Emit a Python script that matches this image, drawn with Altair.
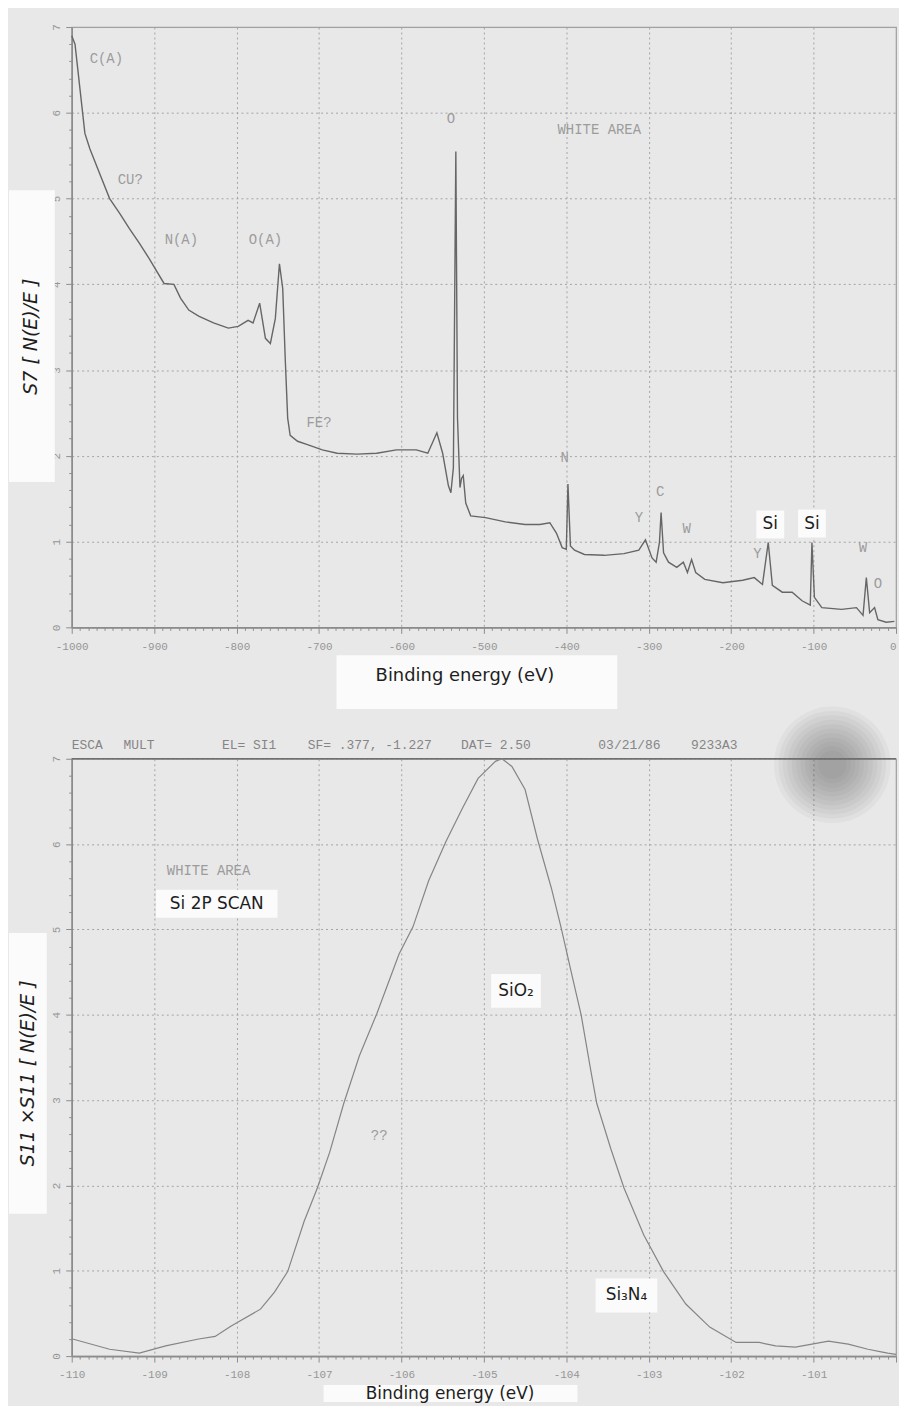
import altair as alt
import pandas as pd

# ---------------- data ----------------
# Survey spectrum (top panel): binding energy (eV) and S7[N(E)/E]
survey_be = [-1000, -996, -990, -984, -978, -966, -954, -942, -930, -918, -906, -888, -876, -868,
             -858, -846, -828, -810, -798, -786, -780, -772, -765, -759, -753, -748, -744, -741,
             -738, -735, -726, -714, -696, -678, -654, -630, -606, -582, -568, -557, -550, -543,
             -540, -537, -534, -532, -529, -527, -525, -522, -516, -498, -474, -450, -432, -420,
             -412, -405, -400, -398, -395, -390, -378, -354, -330, -312, -304, -296, -291, -287,
             -285, -282, -276, -266, -258, -253, -248, -243, -232, -210, -186, -172, -162, -155,
             -150, -138, -126, -114, -104, -102, -99, -90, -66, -48, -40, -36, -32, -26, -22, -12, -2]
survey_int = [6.90, 6.80, 6.28, 5.76, 5.58, 5.29, 5.00, 4.83, 4.65, 4.48, 4.30, 4.01, 4.00, 3.84,
              3.70, 3.63, 3.55, 3.49, 3.51, 3.58, 3.55, 3.78, 3.37, 3.31, 3.60, 4.24, 3.95, 3.14,
              2.44, 2.24, 2.17, 2.13, 2.07, 2.03, 2.02, 2.03, 2.07, 2.07, 2.03, 2.27, 2.03, 1.65,
              1.57, 1.86, 5.55, 2.44, 1.63, 1.74, 1.77, 1.45, 1.30, 1.28, 1.23, 1.20, 1.20, 1.22,
              1.10, 0.93, 0.91, 1.67, 0.95, 0.90, 0.85, 0.84, 0.86, 0.90, 1.02, 0.81, 0.76, 0.99,
              1.34, 0.87, 0.76, 0.70, 0.76, 0.64, 0.79, 0.64, 0.56, 0.52, 0.55, 0.58, 0.50, 0.99,
              0.49, 0.41, 0.41, 0.31, 0.26, 0.99, 0.35, 0.23, 0.21, 0.23, 0.14, 0.58, 0.17, 0.23,
              0.09, 0.06, 0.07]

# Si 2p scan (bottom panel): binding energy (eV) and S11 x S11[N(E)/E]
si2p_be = [-109.99, -109.54, -109.18, -108.86, -108.46, -108.26, -108.07, -107.71, -107.54,
           -107.38, -107.18, -107.02, -106.87, -106.70, -106.51, -106.30, -106.03, -105.86,
           -105.67, -105.46, -105.26, -105.07, -104.86, -104.78, -104.66, -104.50, -104.35,
           -104.18, -104.06, -103.94, -103.82, -103.70, -103.63, -103.46, -103.30, -103.06,
           -102.82, -102.55, -102.26, -101.94, -101.66, -101.46, -101.22, -101.02, -100.82,
           -100.58, -100.34, -100.18, -100.10, -100.0]
si2p_int = [0.20, 0.08, 0.035, 0.12, 0.20, 0.23, 0.35, 0.55, 0.75,
            0.99, 1.58, 1.97, 2.39, 2.96, 3.52, 4.01, 4.71, 5.03,
            5.57, 6.03, 6.42, 6.77, 6.97, 7.00, 6.91, 6.64, 6.06,
            5.48, 5.01, 4.50, 4.00, 3.33, 2.96, 2.43, 1.97, 1.42,
            0.99, 0.61, 0.34, 0.16, 0.16, 0.12, 0.105, 0.14, 0.175,
            0.14, 0.08, 0.05, 0.035, 0.02]

# plotter annotations (data coordinates)
survey_tags = ["C(A)", "CU?", "N(A)", "O(A)", "O", "WHITE AREA", "FE?", "N", "C", "Y", "W", "Y", "W", "O"]
survey_tag_be = [-958, -929, -867, -765, -540, -360, -700, -402, -286, -312, -254, -168, -40, -22]
survey_tag_y = [6.63, 5.22, 4.52, 4.52, 5.93, 5.80, 2.38, 1.97, 1.58, 1.27, 1.15, 0.86, 0.93, 0.50]

survey_boxed = ["Si", "Si"]
survey_boxed_be = [-152.5, -102.0]
survey_boxed_y = [1.20, 1.21]

si2p_tags = ["WHITE AREA", "??"]
si2p_tag_be = [-108.34, -106.27]
si2p_tag_y = [5.69, 2.58]

si2p_boxed = ["Si 2P SCAN", "SiO\u2082", "Si\u2083N\u2084"]
si2p_boxed_be = [-108.24, -104.61, -103.27]
si2p_boxed_y = [5.30, 4.28, 0.71]

header_parts = ["ESCA", "MULT", "EL= SI1", "SF= .377, -1.227", "DAT= 2.50", "03/21/86", "9233A3"]

# axis tick values
y_ticks = [round(0.2 * i, 1) for i in range(36)]
survey_x_ticks = list(range(-1000, 1, 10))
si2p_x_ticks = [round(-110 + 0.1 * i, 1) for i in range(101)]

# ---------------- styling ----------------
W = 828
H_TOP = 603
H_BOT = 600
BG = "#e8e8e8"
MONO = "Liberation Mono"
SANS = "DejaVu Sans"
TAG_COLOR = "#9c9c9c"
INK = "#1e1e1e"
survey_box_px = [(28, 28), (28, 28)]
si2p_box_px = [(122, 28), (50, 34), (62, 34)]
header_px = [0, 52, 151, 237, 391, 529, 622]


def x_axis(ticks, major, dom_max, hide_last=False):
    test = f"abs(datum.value / {major} - round(datum.value / {major})) < 0.001"
    lab = f"({test}) ? '' + round(datum.value) : ''"
    if hide_last:
        lab = f"datum.value > {dom_max - 0.05} ? '' : ({lab})"
    return alt.Axis(values=ticks, title=None, grid=True, labelExpr=lab, labelFlush=False,
                    labelOverlap=False, labelPadding=7,
                    labelAlign={"condition": {"test": f"datum.value > {dom_max - 0.05}", "value": "right"},
                                "value": "center"},
                    tickSize={"condition": {"test": test, "value": 6}, "value": 3},
                    gridOpacity={"condition": {"test": test, "value": 1}, "value": 0},
                    gridDash=[2, 3], gridColor="#a3a3a3", gridWidth=1)


def y_axis():
    test = "abs(datum.value - round(datum.value)) < 0.001"
    return alt.Axis(values=y_ticks, title=None, grid=True,
                    labelExpr=f"({test}) ? '' + round(datum.value) : ''",
                    labelOverlap=False, labelAngle=270, labelAlign="center",
                    labelBaseline="bottom", labelPadding=4,
                    tickSize={"condition": {"test": test, "value": 6}, "value": 3},
                    gridOpacity={"condition": {"test": test, "value": 1}, "value": 0},
                    gridDash=[2, 3], gridColor="#a3a3a3", gridWidth=1)


def box_frame(xs, ys, texts, px_sizes):
    rows = []
    for xv, yv, t, (w, h) in zip(xs, ys, texts, px_sizes):
        s = float(max(w, h))
        a, b = w / s, h / s
        rows.append({"be": xv, "v": yv, "t": t,
                     "path": f"M{-a:.3f},{-b:.3f}H{a:.3f}V{b:.3f}H{-a:.3f}Z", "sz": s * s})
    return pd.DataFrame(rows)


def one_row(**kw):
    return pd.DataFrame({k: [v] for k, v in kw.items()})


def deco_box(x1, x2, y1, y2):
    return alt.Chart(one_row(a=0)).mark_rect(color="#fbfbfb").encode(
        x=alt.value(x1), x2=alt.value(x2), y=alt.value(y1), y2=alt.value(y2))


def deco_text(txt, x, y, size, angle=0, style="normal", font=SANS, color=INK, align="center"):
    return alt.Chart(one_row(t=txt)).mark_text(
        font=font, fontSize=size, angle=angle, fontStyle=style, color=color,
        align=align, baseline="middle").encode(text="t:N", x=alt.value(x), y=alt.value(y))


def panel(be, val, dom, ticks, major, hide_last, height, line_color, line_w,
          tags, tag_be, tag_y, boxed_df, ytitle, ybox, xbox, extra):
    xs = alt.Scale(domain=dom, nice=False, zero=False)
    ys = alt.Scale(domain=[0, 7], nice=False, zero=True)
    xa = x_axis(ticks, major, dom[1], hide_last)
    ya = y_axis()
    X = alt.X("be:Q", scale=xs, axis=xa)
    Y = alt.Y("v:Q", scale=ys, axis=ya)
    line_df = pd.DataFrame({"be": be, "v": val})
    tags_df = pd.DataFrame({"be": tag_be, "v": tag_y, "t": tags})
    line = alt.Chart(line_df).mark_line(color=line_color, strokeWidth=line_w).encode(x=X, y=Y)
    tag_layer = alt.Chart(tags_df).mark_text(font=MONO, fontSize=14, color=TAG_COLOR).encode(
        x=X, y=Y, text="t:N")
    boxes = alt.Chart(boxed_df).mark_point(filled=True, fill="#fbfbfb", opacity=1, strokeWidth=0).encode(
        x=X, y=Y, shape=alt.Shape("path:N", scale=None), size=alt.Size("sz:Q", scale=None))
    box_text = alt.Chart(boxed_df).mark_text(font=SANS, fontSize=17, color=INK).encode(
        x=X, y=Y, text="t:N")
    layers = list(extra) + [line, tag_layer, boxes, box_text]
    # axis titles in white boxes
    layers += [deco_box(*xbox[:4]),
               deco_text("Binding energy (eV)", xbox[4], xbox[5], xbox[6]),
               deco_box(*ybox[:4]),
               deco_text(ytitle, ybox[4], ybox[5], 19, angle=270, style="italic")]
    return alt.layer(*layers).properties(width=W, height=height)


top = panel(survey_be, survey_int, [-1000, 0], survey_x_ticks, 100, False, H_TOP, "#666666", 1.4,
            survey_tags, survey_tag_be, survey_tag_y,
            box_frame(survey_boxed_be, survey_boxed_y, survey_boxed, survey_box_px),
            "S7 [ N(E)/E ]", (-63, -17, 164, 457, -41, 311), (266, 548, 631, 685, 395, 652, 18), [])

smudge = [alt.Chart(one_row(a=0)).mark_circle(color="#4a4a4a", opacity=0.05).encode(
    x=alt.value(764), y=alt.value(6), size=alt.value(3.1416 * r * r))
    for r in (66, 61, 56, 51, 46, 41, 36, 31, 26, 21, 16)]
top_border = [alt.Chart(one_row(a=0)).mark_rule(color="#6f6f6f", strokeWidth=1.6).encode(
    x=alt.value(0), x2=alt.value(W), y=alt.value(0))]
header = [deco_text(t, x, -14, 13, font=MONO, color="#858585", align="left")
          for t, x in zip(header_parts, header_px)]

bottom = panel(si2p_be, si2p_int, [-110, -100], si2p_x_ticks, 1, True, H_BOT, "#858585", 1.2,
               si2p_tags, si2p_tag_be, si2p_tag_y,
               box_frame(si2p_boxed_be, si2p_boxed_y, si2p_boxed, si2p_box_px),
               "S11 \u00d7S11 [ N(E)/E ]", (-63, -25, 175, 457, -44, 316),
               (253, 508, 629, 646, 380, 638, 17),
               smudge + top_border + header)

chart = alt.vconcat(top, bottom, spacing=132, bounds="flush").configure(
    background=BG, padding={"left": 0, "top": 12, "right": 0, "bottom": 0}
).configure_view(stroke="#a0a0a0", strokeWidth=1.2, fill=BG).configure_axis(
    domainColor="#8c8c8c", domainWidth=1.6, tickColor="#8c8c8c", tickWidth=1,
    labelColor="#969696", labelFont=MONO, labelFontSize=11)

chart.save("out.html", embed_options={"renderer": "svg", "actions": False})
